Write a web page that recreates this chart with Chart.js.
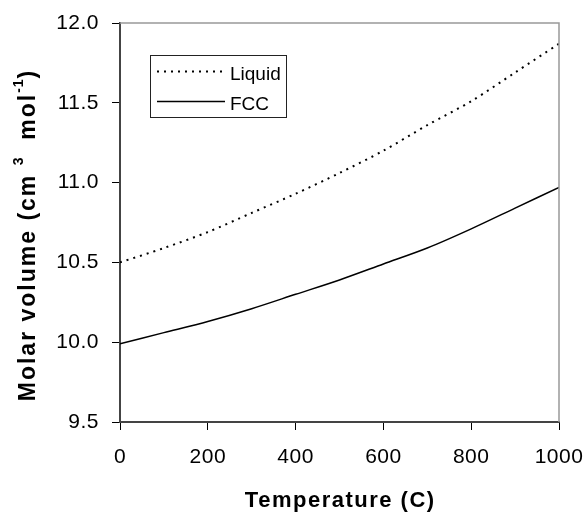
<!DOCTYPE html>
<html>
<head>
<meta charset="utf-8">
<script src="https://cdn.jsdelivr.net/npm/chart.js@4/dist/chart.umd.min.js"></script>
<style>
  body { margin: 0; background: #fff; }
  #wrap { width: 587px; height: 512px; }
</style>
</head>
<body>
<div id="wrap"><canvas id="molarChart"></canvas></div>
<script>
// values
var temperatures = [0, 100, 200, 300, 400, 500, 600, 700, 800, 900, 1000];
var liquidVolume = [10.50, 10.59, 10.69, 10.81, 10.93, 11.06, 11.20, 11.36, 11.51, 11.69, 11.87];
var fccVolume = [9.99, 10.06, 10.13, 10.21, 10.30, 10.39, 10.49, 10.59, 10.71, 10.84, 10.97];
var seriesNames = ["Liquid", "FCC"];
var xTitle = "Temperature (C)";
var yTitleParts = [["Molar volume (cm ", false], ["3", true], ["  mol", false], ["-1", true], [")", false]];

var fontFamily = "'Liberation Sans', Arial, sans-serif";
Chart.defaults.font.family = fontFamily;
Chart.defaults.color = "#000";

function toPoints(ys) {
  return temperatures.map(function(t, i) { return {x: t, y: ys[i]}; });
}

// titles, legend box and the grey top/right frame
var decorations = {
  id: "decorations",
  beforeDraw: function(chart) {
    chart.ctx.letterSpacing = "0.5px";
  },
  afterDraw: function(chart) {
    var ctx = chart.ctx;
    var a = chart.chartArea;
    ctx.save();
    ctx.letterSpacing = "0px";

    // top / right frame
    ctx.strokeStyle = "#999";
    ctx.lineWidth = 1.5;
    ctx.beginPath();
    ctx.moveTo(a.left, a.top);
    ctx.lineTo(a.right, a.top);
    ctx.lineTo(a.right, a.bottom);
    ctx.stroke();

    // legend
    ctx.strokeStyle = "#222";
    ctx.lineWidth = 1;
    ctx.strokeRect(150.5, 55.5, 136, 62);
    ctx.font = "19px " + fontFamily;
    ctx.fillStyle = "#000";
    ctx.textBaseline = "alphabetic";
    var rows = [71.5, 101.5];
    chart.data.datasets.forEach(function(ds, i) {
      ctx.save();
      ctx.strokeStyle = ds.borderColor;
      ctx.lineWidth = ds.borderWidth;
      ctx.setLineDash(ds.borderDash || []);
      ctx.beginPath();
      ctx.moveTo(157, rows[i]);
      ctx.lineTo(225, rows[i]);
      ctx.stroke();
      ctx.restore();
      ctx.fillText(ds.label, 230, rows[i] + 8);
    });

    // x title
    ctx.font = "bold 22px " + fontFamily;
    ctx.letterSpacing = "1.5px";
    var w = ctx.measureText(xTitle).width - 1.5;
    ctx.fillText(xTitle, (a.left + a.right) / 2 - w / 2, 507);

    // y title, rotated, with superscripts
    ctx.translate(35, 0);
    ctx.rotate(-Math.PI / 2);
    var total = 0;
    yTitleParts.forEach(function(p) {
      ctx.font = p[1] ? "bold 14px " + fontFamily : "bold 23px " + fontFamily;
      ctx.letterSpacing = p[1] ? "1px" : "2px";
      total += ctx.measureText(p[0]).width;
    });
    var pos = -235 - total / 2;
    yTitleParts.forEach(function(p) {
      ctx.font = p[1] ? "bold 14px " + fontFamily : "bold 23px " + fontFamily;
      ctx.letterSpacing = p[1] ? "1px" : "2px";
      ctx.fillText(p[0], pos, p[1] ? -12 : 0);
      pos += ctx.measureText(p[0]).width;
    });
    ctx.restore();
  }
};

new Chart("molarChart", {
  type: "line",
  data: {
    datasets: [{
      label: seriesNames[0],
      data: toPoints(liquidVolume),
      borderColor: "#000",
      borderWidth: 2,
      borderDash: [2, 5],
      pointRadius: 0,
      tension: 0.3
    }, {
      label: seriesNames[1],
      data: toPoints(fccVolume),
      borderColor: "#000",
      borderWidth: 1.5,
      pointRadius: 0,
      tension: 0.3
    }]
  },
  options: {
    responsive: true,
    maintainAspectRatio: false,
    animation: false,
    layout: {padding: {top: 23, right: 28, left: 0, bottom: 0}},
    plugins: {
      legend: {display: false},
      tooltip: {enabled: false}
    },
    scales: {
      x: {
        type: "linear",
        min: 0,
        max: 1000,
        afterFit: function(s) {
          s.height = 90;
          s.paddingLeft = 0;
          s.paddingRight = 0;
        },
        ticks: {
          stepSize: 200,
          padding: 15,
          font: {size: 21},
          maxRotation: 0,
          callback: function(v) { return String(v); }
        },
        grid: {drawOnChartArea: false, tickLength: 8, color: "#000"},
        border: {color: "#444", width: 2}
      },
      y: {
        min: 9.5,
        max: 12,
        afterFit: function(s) {
          s.width = 120;
          s.paddingTop = 0;
          s.paddingBottom = 0;
        },
        ticks: {
          stepSize: 0.5,
          padding: 13,
          font: {size: 21},
          callback: function(v) { return v.toFixed(1); }
        },
        grid: {drawOnChartArea: false, tickLength: 8, color: "#000"},
        border: {color: "#444", width: 2}
      }
    }
  },
  plugins: [decorations]
});
</script>
</body>
</html>
